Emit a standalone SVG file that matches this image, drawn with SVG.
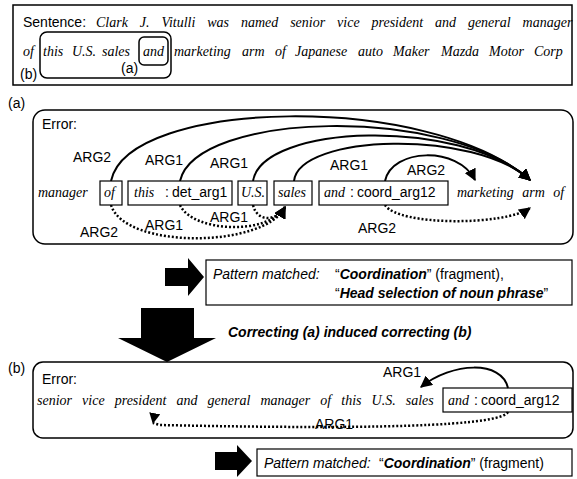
<svg xmlns="http://www.w3.org/2000/svg" width="577" height="479" viewBox="0 0 577 479">
  <style>
    .sans { font-family: "Liberation Sans", Arial, sans-serif; font-size: 14px; fill: #000; }
    .serif { font-family: "Liberation Serif", "Times New Roman", serif; font-style: italic; font-size: 14px; fill: #000; }
    .pm { font-family: "Liberation Sans", Arial, sans-serif; font-size: 14px; fill: #000; }
    .box { fill: #fff; stroke: #000; stroke-width: 1.2; }
    .panel { fill: none; stroke: #000; stroke-width: 1.5; }
    .solid { fill: none; stroke: #000; stroke-width: 2; }
    .dot { fill: none; stroke: #000; stroke-width: 2.5; stroke-dasharray: 2 2; }
    .blk { fill: #000; }
  </style>
  <defs>
    <marker id="head" viewBox="0 0 10 10" refX="9" refY="5" markerWidth="12" markerHeight="12" markerUnits="userSpaceOnUse" orient="auto">
      <path d="M0,0 L10,5 L0,10 Z" fill="#000"/>
    </marker>
    <marker id="head-down" viewBox="0 0 10 10" refX="9" refY="5" markerWidth="11" markerHeight="11" markerUnits="userSpaceOnUse" orient="100">
      <path d="M0,0 L10,5 L0,10 Z" fill="#000"/>
    </marker>
  </defs>

  <rect width="577" height="479" fill="#fff"/>

  <!-- sentence -->
  <g id="sentence">
    <rect x="13" y="5" width="559" height="80" fill="none" stroke="#000" stroke-width="1.5"/>
    <text x="23" y="27" class="sans">Sentence:</text>
    <text x="96" y="27" class="serif" word-spacing="8.4">Clark J. Vitulli was named senior vice president and general manager</text>
    <text y="56" class="serif">
      <tspan x="23">of</tspan><tspan x="43">this</tspan><tspan x="72">U.S.</tspan><tspan x="102">sales</tspan><tspan x="143">and</tspan><tspan x="174">marketing</tspan><tspan x="242">arm</tspan><tspan x="275">of</tspan><tspan x="295">Japanese</tspan><tspan x="358">auto</tspan><tspan x="393">Maker</tspan><tspan x="441">Mazda</tspan><tspan x="489">Motor</tspan><tspan x="534">Corp</tspan>
    </text>
    <rect x="40" y="32" width="131" height="46" rx="7" class="panel" stroke-width="1.2"/>
    <rect x="139" y="37" width="29" height="28" rx="5" class="panel" stroke-width="1.2"/>
    <text x="20" y="79" class="sans">(b)</text>
    <text x="121" y="73" class="sans">(a)</text>
  </g>

  <!-- panel a -->
  <g id="panel-a">
    <text x="8" y="108" class="sans">(a)</text>
    <rect x="33" y="110" width="540" height="134" rx="12" class="panel"/>
    <text x="42" y="129" class="sans">Error:</text>
  </g>

  <g id="connectors-a">
    <path d="M111,181 C128,98 430,92 530,180" class="solid" marker-end="url(#head)"/>
    <path d="M180,181 C196,112 445,104 530,180" class="solid" marker-end="url(#head)"/>
    <path d="M253,181 C262,124 460,117 530,180" class="solid" marker-end="url(#head)"/>
    <path d="M294,181 C299,134 475,129 530,180" class="solid" marker-end="url(#head)"/>
    <path d="M385,181 C392,148 458,146 475,180" class="solid" marker-end="url(#head)"/>
    <path d="M111,205 C125,250 265,248 285,207" class="dot" marker-end="url(#head)"/>
    <path d="M180,205 C192,232 268,236 285,207" class="dot" marker-end="url(#head)"/>
    <path d="M253,205 C257,222 276,222 285,207" class="dot" marker-end="url(#head)"/>
    <path d="M385,205 C398,226 505,226 530,208" class="dot" marker-end="url(#head)"/>
  </g>

  <g id="labels-a">
    <text x="73" y="162" class="sans">ARG2</text>
    <text x="145" y="165" class="sans">ARG1</text>
    <text x="210" y="168" class="sans">ARG1</text>
    <text x="330" y="170" class="sans">ARG1</text>
    <text x="407" y="175" class="sans">ARG2</text>
    <text x="210" y="222" class="sans">ARG1</text>
    <text x="145" y="230" class="sans">ARG1</text>
    <text x="80" y="237" class="sans">ARG2</text>
    <text x="358" y="233" class="sans">ARG2</text>
  </g>

  <g id="words-a">
    <text x="38" y="197" class="serif" word-spacing="2">manager</text>
    <g id="w-of"><rect x="100" y="181" width="22" height="24" class="box"/><text x="104" y="197" class="serif">of</text></g>
    <g id="w-this"><rect x="128" y="181" width="104" height="24" class="box"/><text x="134" y="197" class="serif">this</text><text x="165" y="197" class="sans">:</text><text x="172" y="197" class="sans">det_arg1</text></g>
    <g id="w-us"><rect x="238" y="181" width="29" height="24" class="box"/><text x="241" y="197" class="serif">U.S.</text></g>
    <g id="w-sales"><rect x="274" y="181" width="38" height="24" class="box"/><text x="278" y="197" class="serif">sales</text></g>
    <g id="w-and"><rect x="319" y="181" width="129" height="24" class="box"/><text x="324" y="197" class="serif">and</text><text x="350" y="197" class="sans">:</text><text x="357" y="197" class="sans">coord_arg12</text></g>
    <text x="457" y="197" class="serif" word-spacing="5">marketing arm of</text>
  </g>

  <!-- first match -->
  <g id="match-a">
    <path d="M165,268 L188,268 L188,258 L204,277 L188,296 L188,286 L165,286 Z" class="blk"/>
    <rect x="206" y="260" width="366" height="45" fill="none" stroke="#000" stroke-width="1.2"/>
    <text y="279" class="pm"><tspan x="213" font-style="italic">Pattern matched:</tspan><tspan x="335">“</tspan><tspan font-weight="bold" font-style="italic">Coordination</tspan>” (fragment),</text>
    <text y="298" class="pm"><tspan x="335">“</tspan><tspan font-weight="bold" font-style="italic">Head selection of noun phrase</tspan>”</text>
  </g>

  <!-- correction arrow -->
  <g id="correcting">
    <path d="M141,308 L194,308 L194,338 L216,338 L167,362 L118,338 L141,338 Z" class="blk"/>
    <text x="228" y="337" class="pm" font-size="13" font-weight="bold" font-style="italic">Correcting (a) induced correcting (b)</text>
  </g>

  <!-- panel b -->
  <g id="panel-b">
    <text x="8" y="373" class="sans">(b)</text>
    <rect x="33" y="362" width="540" height="76" rx="10" class="panel"/>
    <text x="42" y="384" class="sans">Error:</text>
    <text x="37" y="405" class="serif" word-spacing="6.6">senior vice president and general manager of this U.S. sales</text>
    <g id="w-and-b"><rect x="443" y="388" width="129" height="24" class="box"/><text x="448" y="405" class="serif">and</text><text x="474" y="405" class="sans">:</text><text x="481" y="405" class="sans">coord_arg12</text></g>
  </g>

  <g id="connectors-b">
    <path d="M508,388 C502,360 452,362 421,387" class="solid" marker-end="url(#head)"/>
    <path d="M508,412 C498,430 300,428 160,425 L153,423" class="dot" marker-end="url(#head-down)"/>
  </g>
  <g id="labels-b">
    <text x="383" y="377" class="sans">ARG1</text>
    <text x="315" y="429" class="sans">ARG1</text>
  </g>

  <!-- second match -->
  <g id="match-b">
    <path d="M215,452 L237,452 L237,445 L252,461 L237,477 L237,470 L215,470 Z" class="blk"/>
    <rect x="257" y="449" width="315" height="27" fill="none" stroke="#000" stroke-width="1.2"/>
    <text y="468" class="pm"><tspan x="264" font-style="italic">Pattern matched:</tspan><tspan x="379">“</tspan><tspan font-weight="bold" font-style="italic">Coordination</tspan>” (fragment)</text>
  </g>
</svg>
